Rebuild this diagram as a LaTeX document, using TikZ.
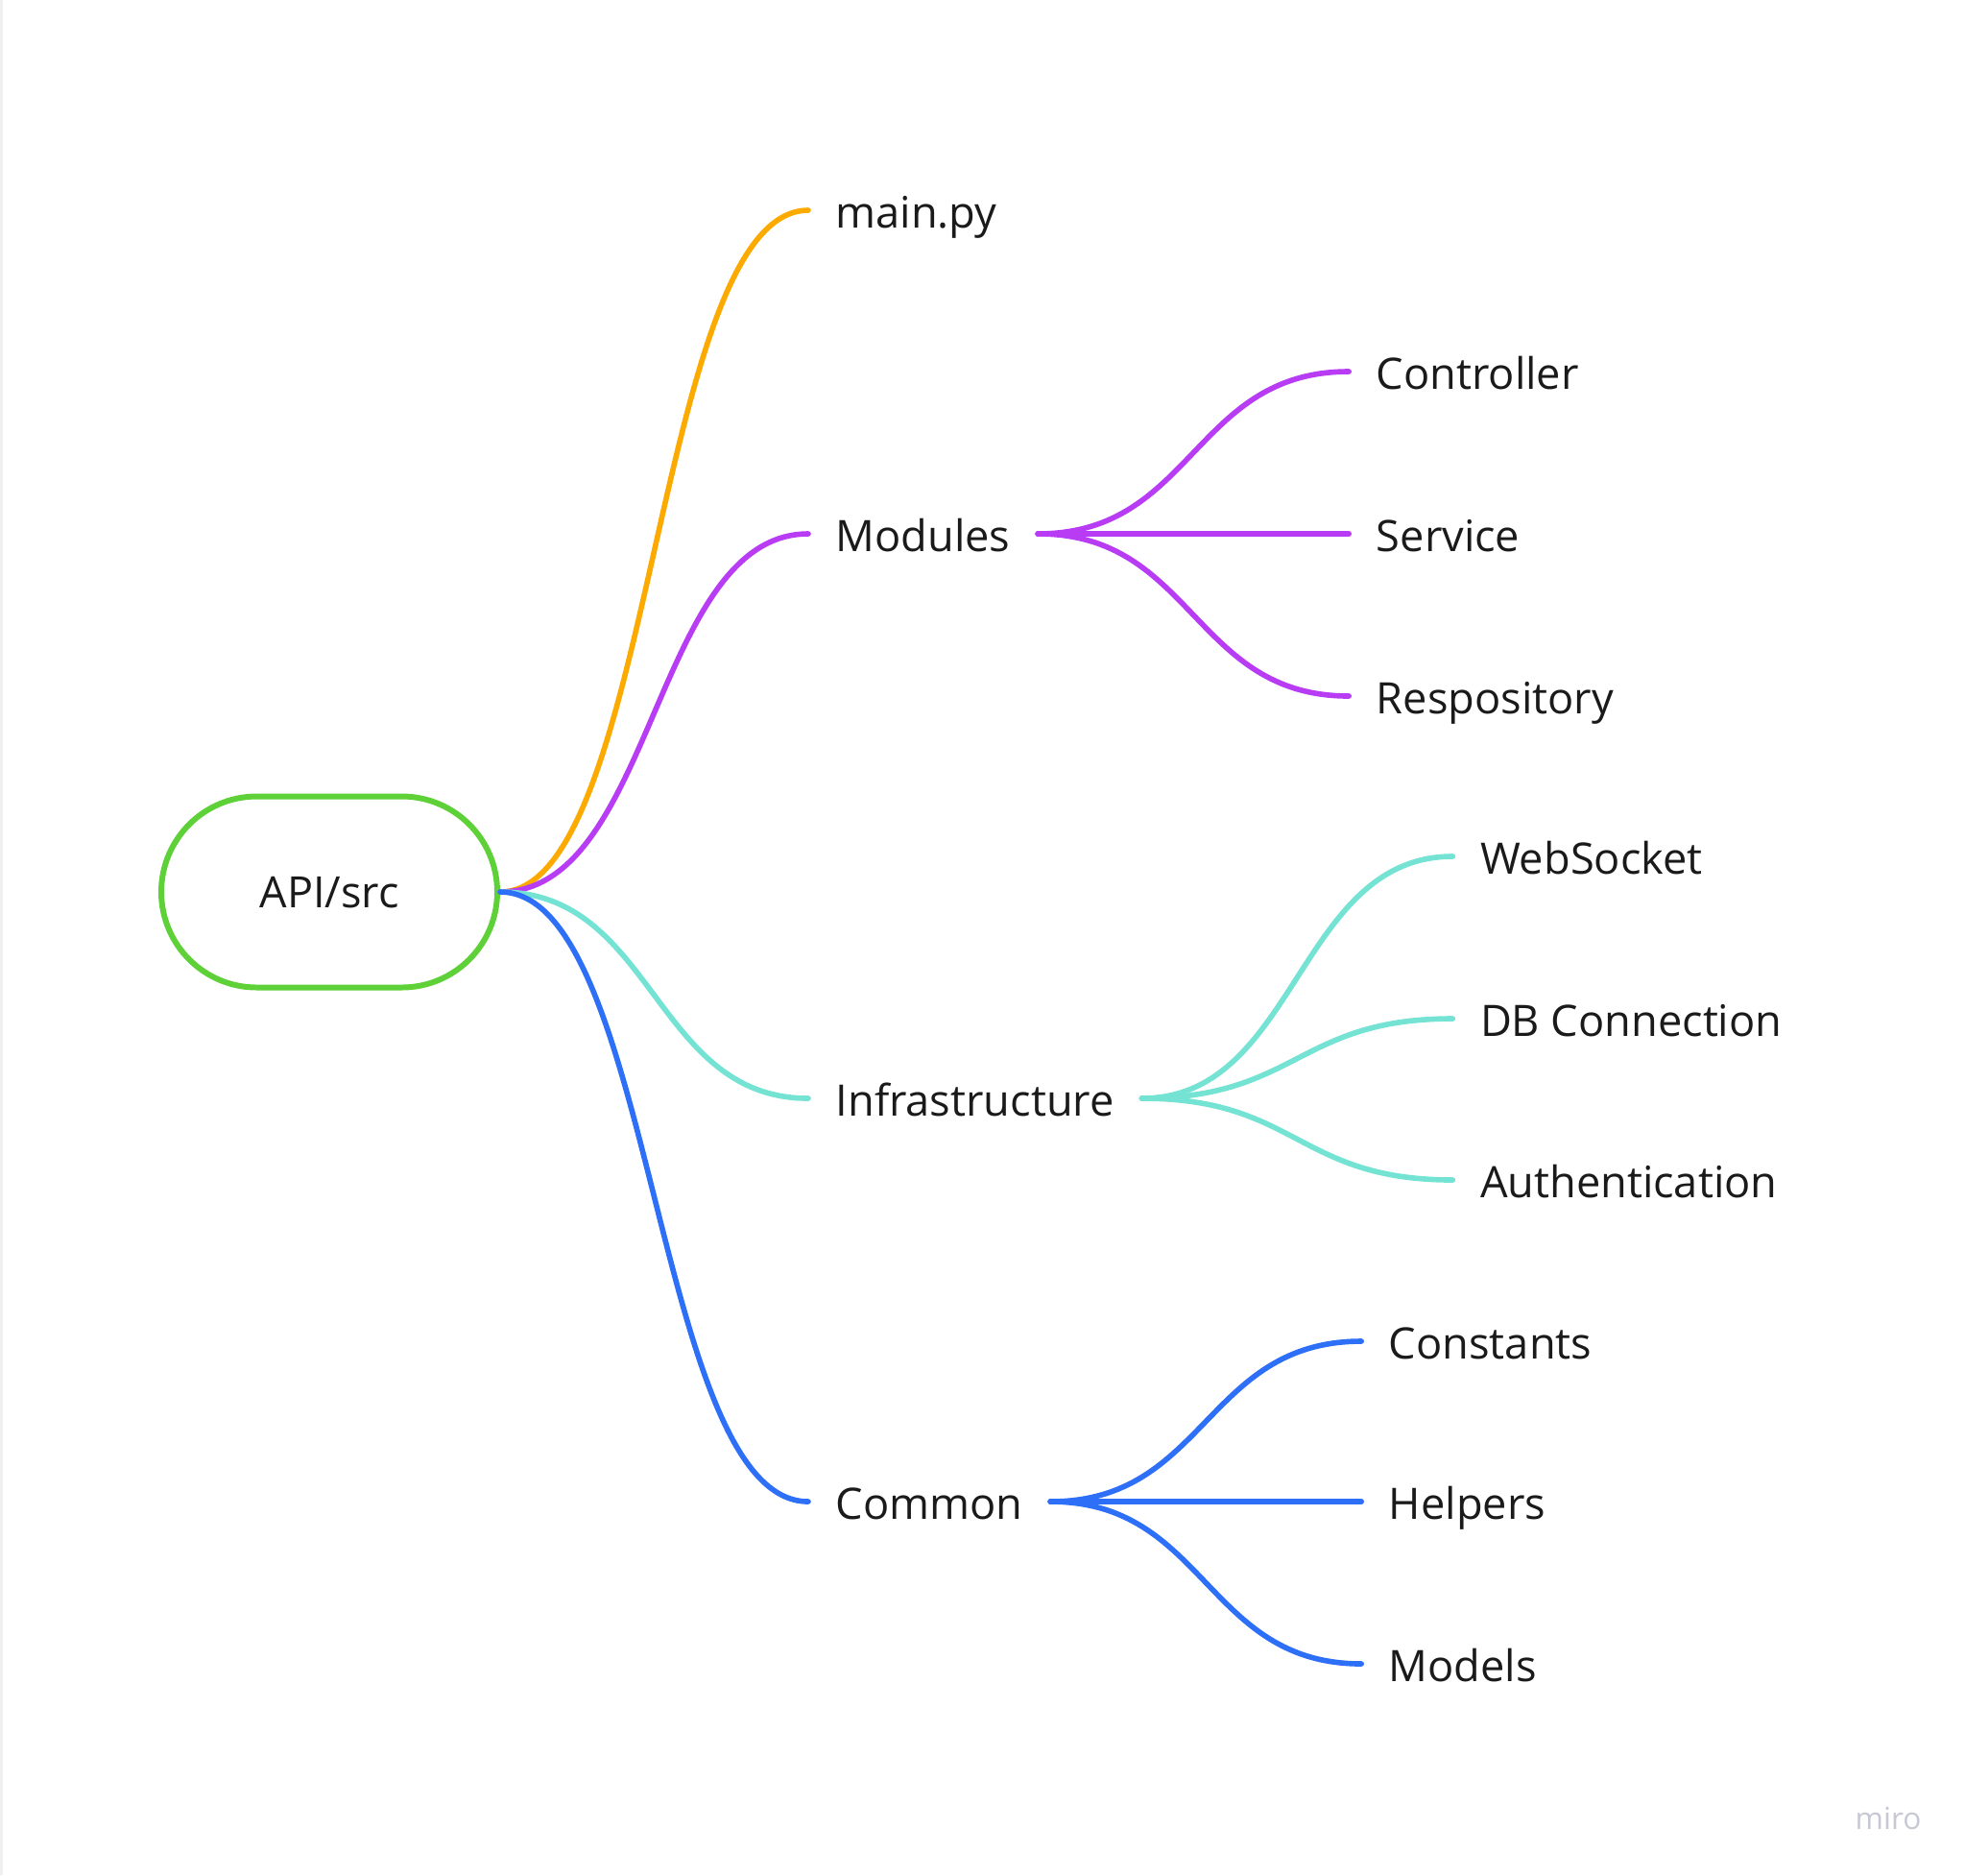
\documentclass[tikz,border=0pt]{standalone}
\usepackage{fontspec}
\setmainfont{Open Sans}
\usetikzlibrary{calc}

\definecolor{rootgreen}{RGB}{93,209,55}
\definecolor{branchorange}{RGB}{253,170,0}
\definecolor{branchpurple}{RGB}{185,60,245}
\definecolor{branchteal}{RGB}{116,227,211}
\definecolor{branchblue}{RGB}{45,112,247}
\definecolor{labeltext}{RGB}{26,26,26}
\definecolor{logogray}{RGB}{200,200,212}

\tikzset{
  rootbox/.style={rectangle, rounded corners=0.995cm, draw=rootgreen, line width=1.7pt,
    minimum width=3.5cm, minimum height=1.99cm, text height=0.32cm, text depth=0pt,
    text=labeltext, font=\fontsize{12.8}{15}\selectfont},
  leaf/.style={anchor=west, inner xsep=0.28cm, inner ysep=0pt, text height=0.36cm, text depth=0pt,
    text=labeltext, font=\fontsize{12.85}{15}\selectfont},
  branch/.style={line width=1.6pt, line cap=round,
    to path={let \p1=(\tikztostart), \p2=(\tikztotarget) in
      .. controls ({(\x1+\x2)/2},\y1) and ({(\x1+\x2)/2},\y2) .. (\tikztotarget)}}
}

\begin{document}
\begin{tikzpicture}
    \useasboundingbox (0,0) rectangle (20.47,-19.53);
    \draw[gray!12,line width=0.03cm] (0.015,0) -- (0.015,-19.53);

    \node[rootbox] (root) at (3.43,-9.29) {API/src};

    \node[leaf] (mainpy) at (8.42,-2.19) {main.py};
    \node[leaf] (modules) at (8.42,-5.56) {Modules};
    \node[leaf] (infra) at (8.42,-11.44) {Infrastructure};
    \node[leaf] (common) at (8.42,-15.64) {Common};

    \foreach \name/\txt/\dy in {ctrl/Controller/1.69, serv/Service/0, repo/Respository/-1.69}
        \node[leaf] (\name) at ($(modules.east)+(3.24,\dy)$) {\txt};
    \foreach \name/\txt/\dy in {websock/WebSocket/2.52, dbconn/DB Connection/0.83, auth/Authentication/-0.85}
        \node[leaf] (\name) at ($(infra.east)+(3.24,\dy)$) {\txt};
    \foreach \name/\txt/\dy in {const/Constants/1.67, helpers/Helpers/0, models/Models/-1.69}
        \node[leaf] (\name) at ($(common.east)+(3.24,\dy)$) {\txt};

    \foreach \name/\col in {mainpy/branchorange, modules/branchpurple, infra/branchteal, common/branchblue}
        \draw[branch,\col] (root.east) to (\name.west);

    \foreach \name in {ctrl,serv,repo} \draw[branch,branchpurple] (modules.east) to (\name.west);
    \foreach \name in {websock,dbconn,auth} \draw[branch,branchteal] (infra.east) to (\name.west);
    \foreach \name in {const,helpers,models} \draw[branch,branchblue] (common.east) to (\name.west);

    \node[text=logogray,font=\fontsize{9}{10}\selectfont] (logo) at (19.67,-18.94) {miro};
\end{tikzpicture}
\end{document}
